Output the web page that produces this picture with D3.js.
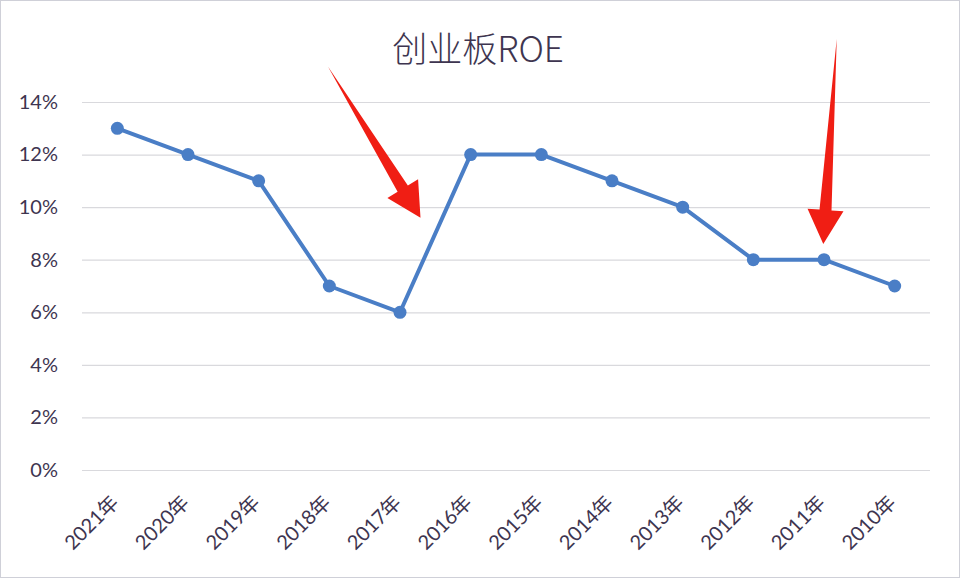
<!DOCTYPE html>
<html lang="zh">
<head>
    <meta charset="UTF-8">
    <title>创业板ROE</title>
    <script src="https://cdn.jsdelivr.net/npm/d3@7/dist/d3.min.js"></script>
    <style>
        body { margin: 0; background: #fff; }
        svg { display: block; }
    </style>
</head>
<body>
<script>
    // data
    var years = ["2021年", "2020年", "2019年", "2018年", "2017年", "2016年",
                 "2015年", "2014年", "2013年", "2012年", "2011年", "2010年"];
    var roe = [13, 12, 11, 7, 6, 12, 12, 11, 10, 8, 8, 7];
    var yTicks = [0, 2, 4, 6, 8, 10, 12, 14];
    // red arrows, given as [category index, value %] for tail and tip
    var arrows = [
        {from: [2.98, 15.35], to: [4.29, 9.6]},
        {from: [10.18, 16.4], to: [9.99, 8.6]}
    ];

    var W = 960, H = 578;
    var svg = d3.select("body").append("svg")
            .attr("width", W)
            .attr("height", H);

    svg.append("rect")
            .attr("x", 0.5).attr("y", 0.5)
            .attr("width", W - 1).attr("height", H - 1)
            .attr("fill", "#fff")
            .attr("stroke", "#cfd0d8");

    var x = d3.scalePoint().domain(years).range([82, 930]).padding(0.5);
    var xi = d3.scaleLinear().domain([0, years.length - 1])
            .range([x(years[0]), x(years[years.length - 1])]);
    var y = d3.scaleLinear().domain([0, 14]).range([470, 102]);

    // title
    svg.append("text")
            .attr("x", 478).attr("y", 62)
            .attr("text-anchor", "middle")
            .attr("font-family", "'Noto Sans CJK SC', sans-serif")
            .attr("font-weight", 300)
            .attr("font-size", 35)
            .attr("fill", "#3e3550")
            .text("创业板ROE");

    // gridlines + y labels
    var yAxis = d3.axisLeft(y).tickValues(yTicks)
            .tickSize(-(930 - 82))
            .tickPadding(24)
            .tickFormat(function(d) { return d + "%"; });
    var gy = svg.append("g")
            .attr("transform", "translate(82,0)")
            .call(yAxis);
    gy.select(".domain").remove();
    gy.selectAll(".tick line").attr("stroke", "#d9d9dd").attr("stroke-width", 1.2);
    gy.selectAll(".tick text")
            .attr("font-family", "Lato, sans-serif")
            .attr("font-size", 20)
            .attr("fill", "#3e3550");

    // x labels
    var xAxis = d3.axisBottom(x).tickSize(0).tickPadding(0);
    var gx = svg.append("g")
            .attr("transform", "translate(0,470)")
            .call(xAxis);
    gx.select(".domain").remove();
    gx.selectAll(".tick text")
            .attr("font-family", "Lato, 'Noto Sans CJK SC', sans-serif")
            .attr("font-size", 20)
            .attr("fill", "#3e3550")
            .attr("text-anchor", "end")
            .attr("dy", null)
            .attr("transform", "translate(2,34) rotate(-45)");

    // line
    var line = d3.line()
            .x(function(d, i) { return x(years[i]); })
            .y(function(d) { return y(d); });
    svg.append("path")
            .datum(roe)
            .attr("d", line)
            .attr("fill", "none")
            .attr("stroke", "#4a7ec6")
            .attr("stroke-width", 4)
            .attr("stroke-linejoin", "round");
    svg.selectAll("circle.pt")
            .data(roe)
            .enter().append("circle")
            .attr("class", "pt")
            .attr("cx", function(d, i) { return x(years[i]); })
            .attr("cy", function(d) { return y(d); })
            .attr("r", 6.5)
            .attr("fill", "#4a7ec6");

    // arrows: tapered shaft + head
    function arrowPath(a) {
        var x0 = xi(a.from[0]), y0 = y(a.from[1]);
        var x1 = xi(a.to[0]), y1 = y(a.to[1]);
        var dx = x1 - x0, dy = y1 - y0;
        var len = Math.sqrt(dx * dx + dy * dy);
        var ux = dx / len, uy = dy / len;
        var px = -uy, py = ux;
        var headLen = 34, headW = 18, shaftW = 6;
        var bx = x1 - ux * headLen, by = y1 - uy * headLen;
        var pts = [
            [x0, y0],
            [bx + px * shaftW, by + py * shaftW],
            [bx + px * headW, by + py * headW],
            [x1, y1],
            [bx - px * headW, by - py * headW],
            [bx - px * shaftW, by - py * shaftW]
        ];
        return "M" + pts.map(function(p) { return p.join(","); }).join("L") + "Z";
    }
    svg.selectAll("path.arrow")
            .data(arrows)
            .enter().append("path")
            .attr("class", "arrow")
            .attr("d", arrowPath)
            .attr("fill", "#f01e14");
</script>
</body>
</html>
